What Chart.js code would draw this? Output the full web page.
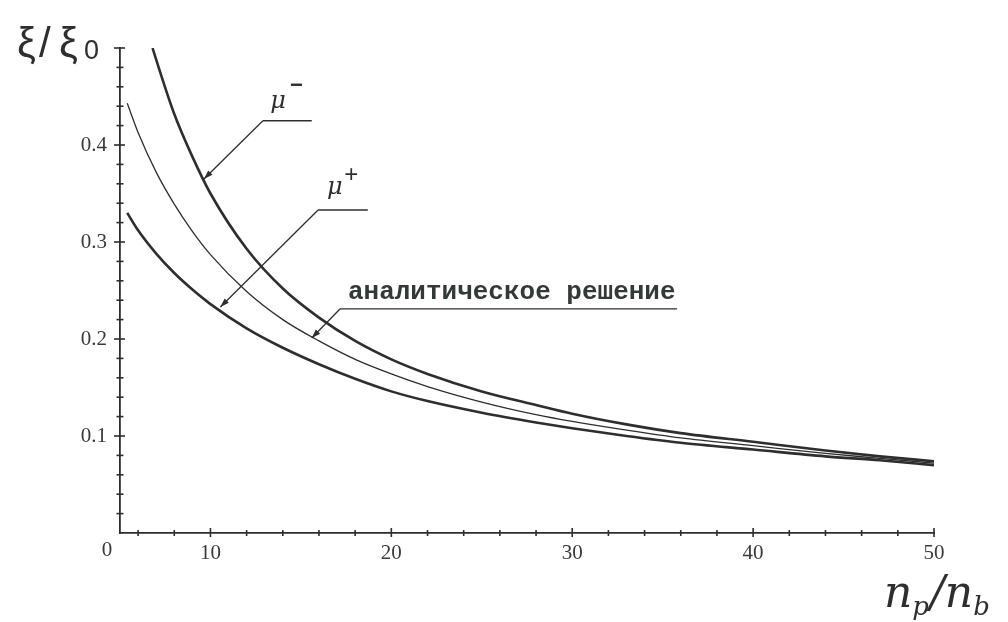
<!DOCTYPE html>
<html>
<head>
<meta charset="utf-8">
<script src="https://cdn.jsdelivr.net/npm/chart.js@4"></script>
<style>
html,body{margin:0;padding:0;background:#fff;}
#wrap{width:1008px;height:622px;}
</style>
</head>
<body>
<div id="wrap"><canvas id="c" width="1008" height="622"></canvas></div>
<script>
// ---- data ----
const xMuMinus = [6.8, 7, 8, 9, 10, 12, 14, 16, 18, 20, 22, 25, 28, 30, 33, 36, 40, 44, 47, 50];
const muMinus  = [0.500, 0.488, 0.432, 0.388, 0.350, 0.293, 0.252, 0.222, 0.198, 0.179, 0.164, 0.146, 0.132, 0.123, 0.112, 0.103, 0.094, 0.085, 0.079, 0.074];

const xCommon  = [5.4, 6, 7, 8, 9, 10, 12, 14, 16, 18, 20, 22, 25, 28, 30, 33, 36, 40, 44, 47, 50];
const analytic = [0.443, 0.413, 0.372, 0.339, 0.311, 0.287, 0.249, 0.220, 0.198, 0.179, 0.164, 0.151, 0.135, 0.122, 0.115, 0.106, 0.098, 0.090, 0.082, 0.077, 0.072];
const muPlus   = [0.330, 0.312, 0.288, 0.268, 0.251, 0.236, 0.211, 0.191, 0.174, 0.159, 0.146, 0.136, 0.124, 0.114, 0.108, 0.100, 0.093, 0.086, 0.079, 0.075, 0.070];

const xTickLabels = [10, 20, 30, 40, 50];
const yTickLabels = [0.1, 0.2, 0.3, 0.4];
const xRange = [5, 50];
const yRange = [0, 0.5];

const labelMuMinus = "μ";
const labelMuPlus = "μ";
const labelAnalytic = "аналитическое решение";

function pts(xs, ys){ return xs.map((x,i)=>({x:x, y:ys[i]})); }

const INK = '#2e2e2e';

const decor = {
  id: 'decor',
  afterDraw(chart){
    const ctx = chart.ctx;
    const xs = chart.scales.x, ys = chart.scales.y;
    const X = v => xs.getPixelForValue(v);
    const Y = v => ys.getPixelForValue(v);
    const x0 = X(xRange[0]), y0 = Y(0);
    ctx.save();
    ctx.strokeStyle = INK; ctx.fillStyle = INK; ctx.lineWidth = 1.6;
    // y ticks
    for (let k = 1; k <= 25; k++) {
      const v = k * 0.02; const py = Y(v);
      const major = (k % 5 === 0);
      ctx.beginPath();
      ctx.moveTo(x0 - (major ? 6 : 3.5), py);
      ctx.lineTo(x0 + (major ? 5 : 3.5), py);
      ctx.stroke();
    }
    // x ticks
    for (let v = 6; v <= 50; v += 2) {
      const px = X(v); const major = (v % 10 === 0);
      ctx.beginPath();
      ctx.moveTo(px, y0 - (major ? 5 : 3));
      ctx.lineTo(px, y0 + (major ? 4 : 3));
      ctx.stroke();
    }
    // origin label
    ctx.font = '21px "Liberation Serif", serif';
    ctx.textAlign = 'center'; ctx.textBaseline = 'middle';
    ctx.fillStyle = '#3a3a3a';
    ctx.fillText('0', x0 - 13, y0 + 17);

    // axis titles
    ctx.fillStyle = INK;
    ctx.textAlign = 'left'; ctx.textBaseline = 'alphabetic';
    ctx.font = '42px "Liberation Sans", sans-serif';
    ctx.fillText('ξ', 17, 57);
    ctx.fillText('/', 39, 57);
    ctx.fillText('ξ', 59, 57);
    ctx.font = '27px "Liberation Sans", sans-serif';
    ctx.fillText('0', 84, 59);

    ctx.font = 'italic 44px "DejaVu Serif", serif';
    let bx = 884, by = 607;
    ctx.fillText('n', bx, by); bx += ctx.measureText('n').width;
    ctx.font = 'italic 26px "DejaVu Serif", serif';
    ctx.fillText('p', bx, by + 8); bx += ctx.measureText('p').width + 1;
    ctx.font = 'italic 44px "DejaVu Serif", serif';
    ctx.fillText('/', bx, by); bx += ctx.measureText('/').width;
    ctx.fillText('n', bx, by); bx += ctx.measureText('n').width;
    ctx.font = 'italic 26px "DejaVu Serif", serif';
    ctx.fillText('b', bx, by + 8);

    // annotations (positions in data units)
    function arrow(tx, ty, fx, fy){
      const ax = X(tx), ay = Y(ty), bxp = X(fx), byp = Y(fy);
      ctx.lineWidth = 1.3;
      ctx.beginPath(); ctx.moveTo(bxp, byp); ctx.lineTo(ax, ay); ctx.stroke();
      const ang = Math.atan2(ay - byp, ax - bxp);
      const L = 9, H = 3;
      ctx.beginPath();
      ctx.moveTo(ax, ay);
      ctx.lineTo(ax - L*Math.cos(ang) + H*Math.sin(ang), ay - L*Math.sin(ang) - H*Math.cos(ang));
      ctx.lineTo(ax - L*Math.cos(ang) - H*Math.sin(ang), ay - L*Math.sin(ang) + H*Math.cos(ang));
      ctx.closePath(); ctx.fill();
    }
    function hline(xa, xb, yv){
      ctx.lineWidth = 1.3;
      ctx.beginPath(); ctx.moveTo(X(xa), Y(yv)); ctx.lineTo(X(xb), Y(yv)); ctx.stroke();
    }
    // mu-
    hline(12.9, 15.6, 0.425);
    arrow(9.64, 0.365, 12.9, 0.425);
    ctx.font = 'italic 24px "DejaVu Serif", serif';
    ctx.fillText(labelMuMinus, X(13.3), Y(0.438));
    ctx.font = 'bold 22px "Liberation Sans", sans-serif';
    ctx.fillText('−', X(14.4), Y(0.455));
    // mu+
    hline(15.95, 18.7, 0.333);
    arrow(10.55, 0.233, 15.95, 0.333);
    ctx.font = 'italic 24px "DejaVu Serif", serif';
    ctx.fillText(labelMuPlus, X(16.45), Y(0.35));
    ctx.font = '24px "Liberation Sans", sans-serif';
    ctx.fillText('+', X(17.4), Y(0.362));
    // analytic
    hline(17.16, 35.8, 0.231);
    arrow(15.6, 0.201, 17.16, 0.231);
    ctx.font = 'bold 26px "Liberation Mono", monospace';
    ctx.fillStyle = '#333a36';
    ctx.fillText(labelAnalytic, X(17.6), Y(0.241));
    ctx.restore();
  }
};

new Chart(document.getElementById('c'), {
  type: 'line',
  data: {
    datasets: [
      { label: 'μ−', data: pts(xMuMinus, muMinus), borderColor: INK, borderWidth: 2.6, pointRadius: 0, fill: false, cubicInterpolationMode: 'monotone' },
      { label: 'аналитическое решение', data: pts(xCommon, analytic), borderColor: INK, borderWidth: 1.3, pointRadius: 0, fill: false, cubicInterpolationMode: 'monotone' },
      { label: 'μ+', data: pts(xCommon, muPlus), borderColor: INK, borderWidth: 2.6, pointRadius: 0, fill: false, cubicInterpolationMode: 'monotone' }
    ]
  },
  options: {
    responsive: false,
    animation: false,
    devicePixelRatio: 1,
    layout: { padding: { left: 0, top: 48, right: 74, bottom: 0 } },
    plugins: { legend: { display: false }, tooltip: { enabled: false } },
    scales: {
      x: {
        type: 'linear', min: xRange[0], max: xRange[1],
        afterBuildTicks: s => { s.ticks = xTickLabels.map(v => ({value: v})); },
        afterFit: s => { s.height = 89; },
        grid: { display: false, drawTicks: false },
        border: { display: true, color: INK, width: 1.8 },
        ticks: { padding: 8, color: '#3a3a3a', font: { family: '"Liberation Serif", serif', size: 21 }, maxRotation: 0, callback: v => String(v) }
      },
      y: {
        type: 'linear', min: yRange[0], max: yRange[1],
        afterBuildTicks: s => { s.ticks = yTickLabels.map(v => ({value: v})); },
        afterFit: s => { s.width = 120; },
        grid: { display: false, drawTicks: false },
        border: { display: true, color: INK, width: 1.8 },
        ticks: { padding: 13, color: '#3a3a3a', font: { family: '"Liberation Serif", serif', size: 21 }, callback: v => Number(v).toFixed(1) }
      }
    }
  },
  plugins: [decor]
});
</script>
</body>
</html>
